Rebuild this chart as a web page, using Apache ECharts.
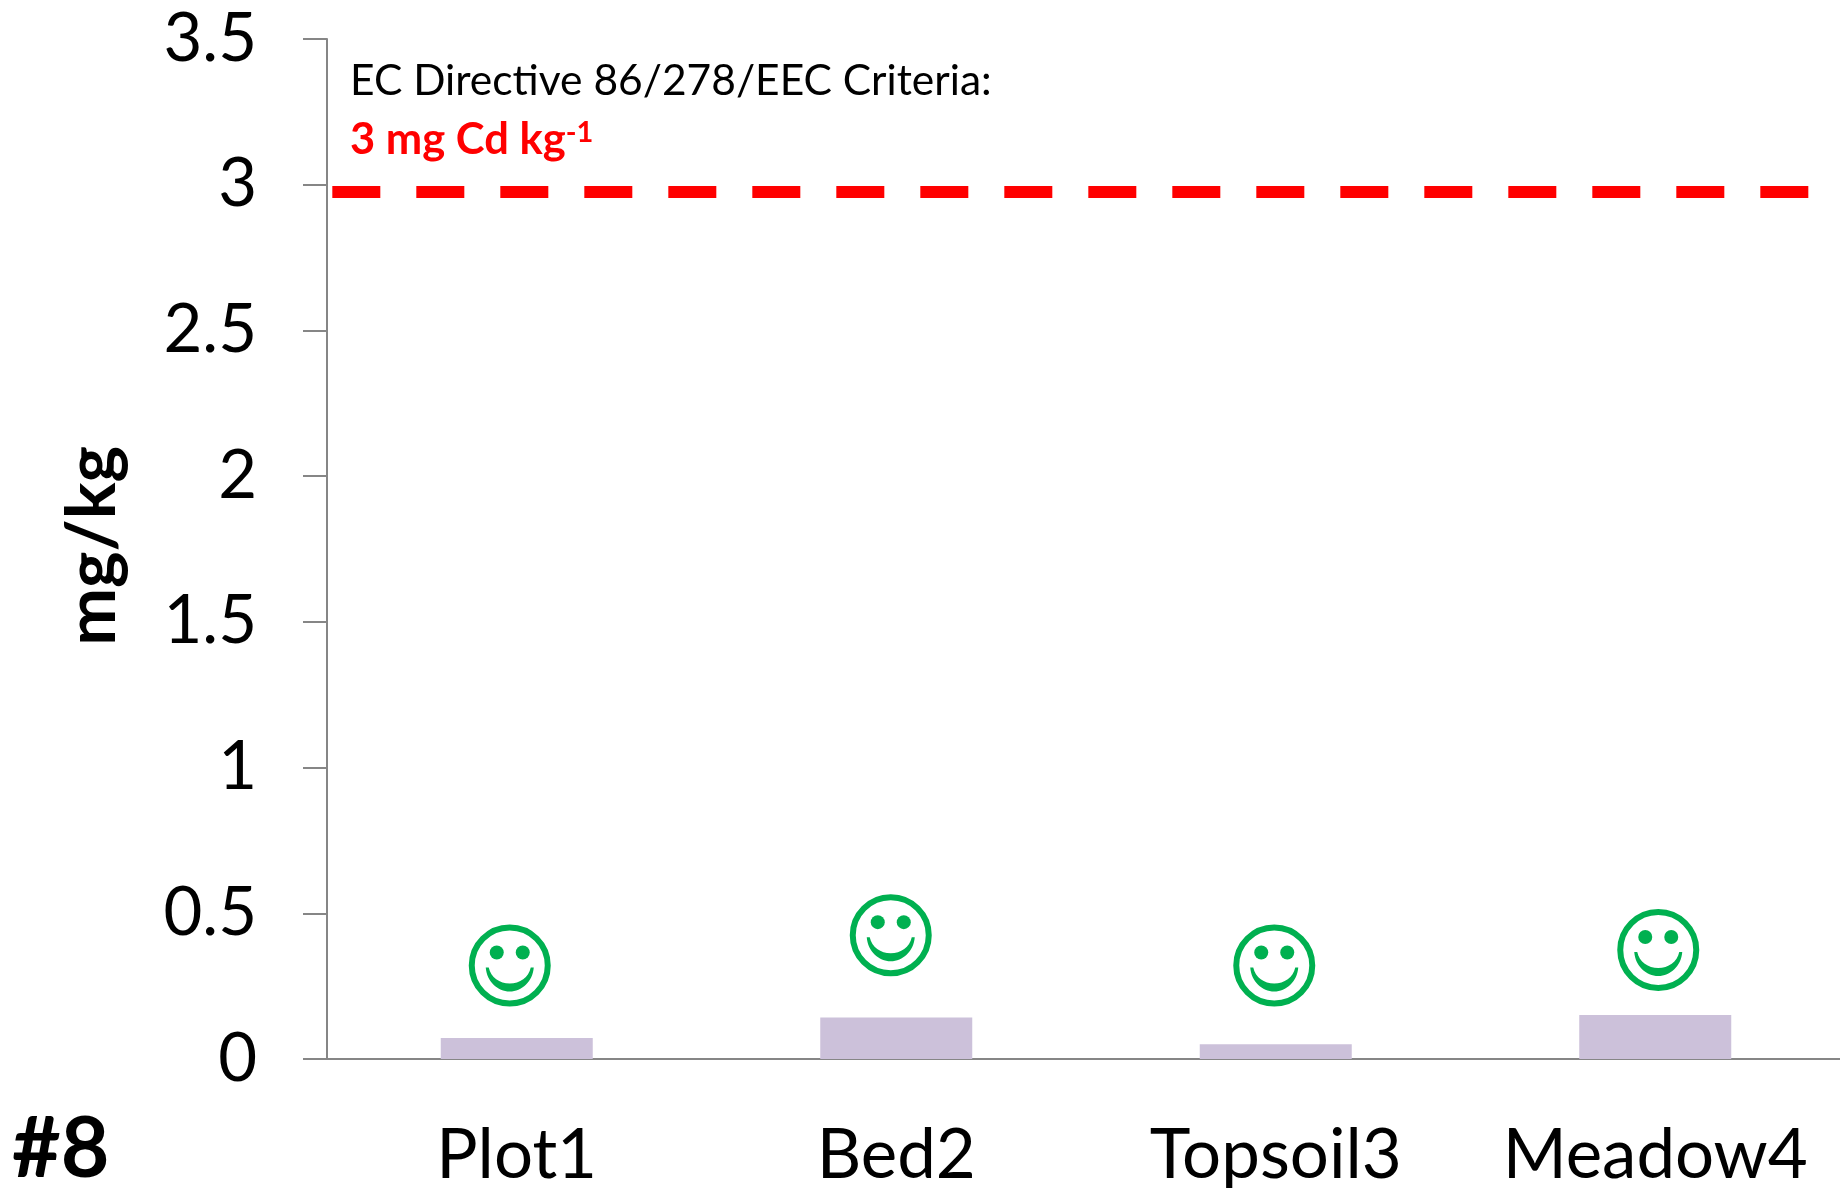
<!DOCTYPE html>
<html>
<head>
<meta charset="utf-8">
<title>Cd chart</title>
<script src="https://cdn.jsdelivr.net/npm/echarts@6/dist/echarts.min.js"></script>
<style>
  html, body { margin: 0; padding: 0; background: #fff; }
  #chart { width: 1840px; height: 1188px; }
</style>
</head>
<body>
<div id="chart"></div>
<script>
var categories = ['Plot1', 'Bed2', 'Topsoil3', 'Meadow4'];
var cdValues = [0.072, 0.142, 0.051, 0.151];
var smileyValues = [0.321, 0.425, 0.321, 0.374];
var criteriaLine = [[0.014, 2.975], [3.91, 2.975]];
var yTicks = ['0', '0.5', '1', '1.5', '2', '2.5', '3', '3.5'];

var FONT = 'Lato';
var GREEN = '#00B050';
var smileyShift = [-7, -5.5, -1.5, 3];
var SMILE_PATH = 'M-24 2 L-21 2 C-19 12 -10 18 0 18 C10 18 19 12 21 2 L24 2 C23 16 12 26 0 26 C-12 26 -23 16 -24 2 Z';

function renderSmiley (params, api) {
    var p = api.coord([api.value(0), api.value(1)]);
    var cx = p[0] + smileyShift[params.dataIndex];
    var cy = p[1];
    return {
        type: 'group',
        children: [
            { type: 'circle', shape: { cx: cx, cy: cy, r: 38 }, style: { fill: 'none', stroke: GREEN, lineWidth: 6 } },
            { type: 'circle', shape: { cx: cx - 13, cy: cy - 13, r: 7 }, style: { fill: GREEN } },
            { type: 'circle', shape: { cx: cx + 13, cy: cy - 13, r: 7 }, style: { fill: GREEN } },
            {
                type: 'path',
                shape: { pathData: SMILE_PATH, layout: 'cover', x: cx - 24, y: cy + 2, width: 48, height: 24 },
                style: { fill: GREEN }
            }
        ]
    };
}

var myChart = echarts.init(document.getElementById('chart'));
var option = {
    backgroundColor: '#fff',
    animation: false,
    textStyle: { fontFamily: FONT },
    // the plot runs past the right edge of the page, as in the original
    grid: { left: 327, top: 39, width: 1518, height: 1020, containLabel: false, outerBoundsMode: 'none' },
    xAxis: [
        {
            type: 'category',
            data: categories,
            axisLine: { lineStyle: { color: '#868686', width: 2 } },
            axisTick: { show: false },
            axisLabel: { color: '#000', fontSize: 69, fontFamily: FONT, margin: 62, interval: 0, hideOverlap: false }
        },
        { type: 'value', min: 0, max: 4, show: false }
    ],
    yAxis: {
        type: 'value',
        min: 0,
        max: 3.5,
        interval: 0.5,
        splitLine: { show: false },
        axisLine: { show: true, lineStyle: { color: '#868686', width: 2 } },
        axisTick: { show: true, length: 24, lineStyle: { color: '#868686', width: 2 } },
        axisLabel: {
            color: '#000',
            fontSize: 67,
            fontFamily: FONT,
            margin: 70,
            formatter: function (v) { return yTicks[Math.round(v * 2)]; }
        }
    },
    series: [
        {
            type: 'bar',
            data: cdValues,
            barWidth: 152,
            itemStyle: { color: '#CCC1DA' }
        },
        {
            type: 'line',
            xAxisIndex: 1,
            data: criteriaLine,
            symbol: 'none',
            lineStyle: { color: '#FF0000', width: 12, type: [48, 36], cap: 'butt' }
        },
        {
            type: 'custom',
            data: smileyValues.map(function (v, i) { return [i, v]; }),
            renderItem: renderSmiley,
            clip: false
        }
    ],
    graphic: [
        {
            type: 'text', left: 350, top: 60,
            style: { text: 'EC Directive 86/278/EEC Criteria:', fill: '#000', font: '42.5px Lato' }
        },
        {
            type: 'text', left: 350, top: 118,
            style: {
                text: '{a|3 mg Cd kg}{b|-1}',
                rich: {
                    a: { fill: '#FF0000', font: 'bold 43.5px Lato' },
                    b: { fill: '#FF0000', font: 'bold 29px Lato', verticalAlign: 'top' }
                }
            }
        },
        {
            type: 'text', left: 58, top: 446, rotation: Math.PI / 2, originX: 0, originY: 0,
            style: { text: 'mg/kg', fill: '#000', font: 'bold 69px Lato' }
        },
        {
            type: 'text', left: 12, top: 1108,
            style: { text: '#8', fill: '#000', font: 'bold 84px Lato' }
        }
    ]
};
myChart.setOption(option);
</script>
</body>
</html>
